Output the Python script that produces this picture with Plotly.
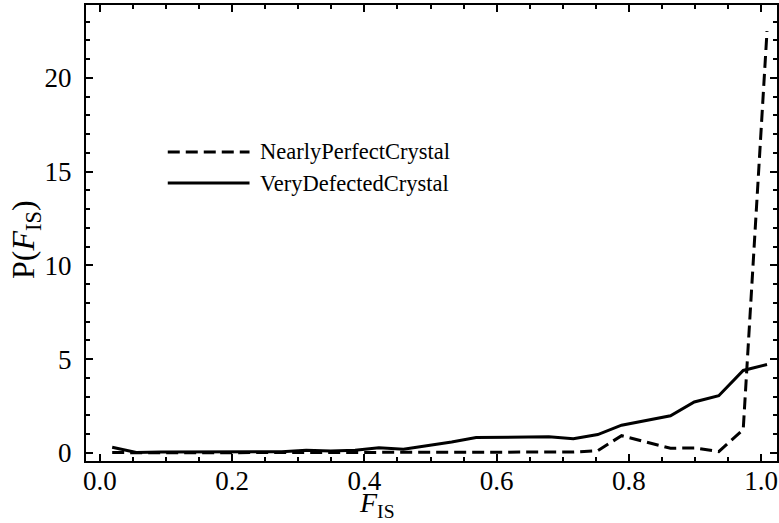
import plotly.graph_objects as go

# Bin centres of F_IS
f_is = [0.0185, 0.055, 0.092, 0.129, 0.165, 0.202, 0.239, 0.275, 0.312, 0.349,
        0.386, 0.422, 0.459, 0.496, 0.532, 0.569, 0.606, 0.642, 0.679, 0.716,
        0.753, 0.789, 0.826, 0.863, 0.899, 0.936, 0.973, 1.009]

nearly_perfect = [0.02, 0.00, 0.01, 0.01, 0.01, 0.01, 0.01, 0.01, 0.01, 0.01,
                  0.01, 0.01, 0.01, 0.01, 0.01, 0.01, 0.01, 0.01, 0.02, 0.05,
                  0.12, 0.92, 0.58, 0.25, 0.27, 0.07, 1.25, 22.5]

very_defected = [0.30, 0.03, 0.05, 0.05, 0.05, 0.07, 0.08, 0.07, 0.14, 0.10,
                 0.15, 0.28, 0.20, 0.38, 0.58, 0.82, 0.84, 0.84, 0.86, 0.76,
                 0.98, 1.48, 1.72, 1.98, 2.72, 3.05, 4.40, 4.72]

series_names = ["NearlyPerfectCrystal", "VeryDefectedCrystal"]
x_ticks = [0.0, 0.2, 0.4, 0.6, 0.8, 1.0]
x_tick_labels = ["0.0", "0.2", "0.4", "0.6", "0.8", "1.0"]
y_ticks = [0, 5, 10, 15, 20]
y_tick_labels = ["0", "5", "10", "15", "20"]

FONT = "Liberation Serif, Times New Roman, serif"
DASH = "12px,6px"

fig = go.Figure()
fig.add_trace(go.Scatter(x=f_is, y=nearly_perfect, mode="lines", name=series_names[0],
                         line=dict(color="black", width=3, dash=DASH), showlegend=False))
fig.add_trace(go.Scatter(x=f_is, y=very_defected, mode="lines", name=series_names[1],
                         line=dict(color="black", width=3), showlegend=False))

axis_common = dict(
    showgrid=False, zeroline=False, showline=True, linecolor="black", linewidth=2,
    ticks="inside", tickcolor="black", tickwidth=1.5, ticklen=7,
    mirror="allticks",
    tickfont=dict(family=FONT, size=27, color="black"),
)

fig.update_xaxes(range=[-0.0211, 1.0241], tickvals=x_ticks, ticktext=x_tick_labels,
                 minor=dict(dtick=0.05, ticks="inside", ticklen=4, tickcolor="black", tickwidth=1.5),
                 ticklabelstandoff=-5, **axis_common)
fig.update_yaxes(range=[-0.43, 23.89], tickvals=y_ticks, ticktext=y_tick_labels,
                 minor=dict(dtick=1, ticks="inside", ticklen=4, tickcolor="black", tickwidth=1.5),
                 ticklabelstandoff=7, **axis_common)

# Manual legend
legend_rows = [(152, DASH, series_names[0]), (183, "solid", series_names[1])]
W, H = 779, 523
L, R, T, B = 86, 0, 5, 62
pw, ph = W - L - R, H - T - B
def px_to_paper(px, py):
    return (px - L) / pw, (H - B - py) / ph
for py, dash, name in legend_rows:
    x0, y0 = px_to_paper(168, py)
    x1, _ = px_to_paper(250, py)
    fig.add_shape(type="line", xref="paper", yref="paper", x0=x0, x1=x1, y0=y0, y1=y0,
                  line=dict(color="black", width=3, dash=dash))
    tx, _ = px_to_paper(258, py)
    fig.add_annotation(xref="paper", yref="paper", x=tx, y=y0, xanchor="left", yanchor="middle",
                       text=name, showarrow=False, font=dict(family=FONT, size=22.5, color="black"))

# Axis titles
xt, _ = px_to_paper(378, 0)
fig.add_annotation(xref="paper", yref="paper", x=xt, y=0, yanchor="bottom", xanchor="center",
                   yshift=-(524 - (H - B)), text="<i>F</i><sub>IS</sub>", showarrow=False,
                   font=dict(family=FONT, size=28, color="black"))
_, yt = px_to_paper(0, 240)
fig.add_annotation(xref="paper", yref="paper", x=0, y=yt, xanchor="center", yanchor="middle",
                   xshift=25 - L, textangle=-90, text="P(<i>F</i><sub>IS</sub>)", showarrow=False,
                   font=dict(family=FONT, size=32, color="black"))

fig.update_layout(width=W, height=H, margin=dict(l=L, r=R, t=T, b=B),
                  paper_bgcolor="white", plot_bgcolor="white", showlegend=False)

fig.write_html("out.html")
